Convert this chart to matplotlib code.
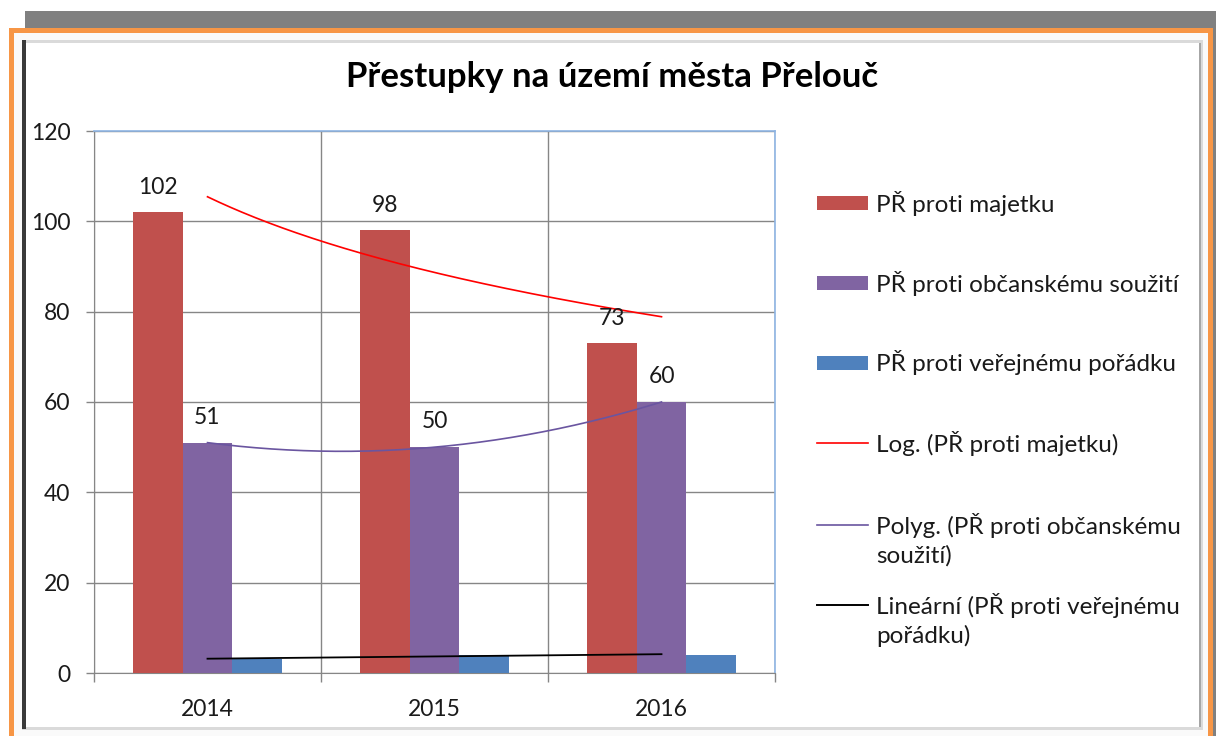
import numpy as np
import matplotlib
matplotlib.use("Agg")
import matplotlib.pyplot as plt
from matplotlib.patches import Rectangle
from matplotlib.lines import Line2D

plt.rcParams['font.family'] = ['Lato', 'DejaVu Sans']

# ---- data ----
title = "Přestupky na území města Přelouč"
years = ["2014", "2015", "2016"]
majetek = [102, 98, 73]
obcanske = [51, 50, 60]
verejny = [3, 4, 4]
series_names = ["PŘ proti majetku", "PŘ proti občanskému soužití", "PŘ proti veřejnému pořádku"]
trend_names = ["Log. (PŘ proti majetku)", "Polyg. (PŘ proti občanskému\nsoužití)",
               "Lineární (PŘ proti veřejnému\npořádku)"]
yticks = [0, 20, 40, 60, 80, 100, 120]

bar_colors = ["#C0504D", "#8064A2", "#4F81BD"]
trend_colors = ["#FF0000", "#6A55A0", "#000000"]

W, H = 1216, 736
fig = plt.figure(figsize=(W / 100, H / 100), dpi=100)
fig.patch.set_facecolor("white")

def fx(x):
    return x / W

def fy(y):
    return 1 - y / H

def frect(x0, y0, x1, y1, **kw):
    fig.patches.append(Rectangle((fx(x0), fy(y1)), fx(x1) - fx(x0), fy(y0) - fy(y1),
                                 transform=fig.transFigure, figure=fig, **kw))

# ---- frame decorations ----
frect(25, 11, 1220, 745, facecolor="#808080", edgecolor="none", zorder=-10)
frect(9, 28, 1213, 745, facecolor="#F79646", edgecolor="none", zorder=-9)
frect(14, 33, 1208, 745, facecolor="#FAFAFA", edgecolor="none", zorder=-8)
frect(22, 40, 1203, 730, facecolor="#DADADA", edgecolor="none", zorder=-7)
frect(26, 43, 1199, 727, facecolor="white", edgecolor="none", zorder=-6)
frect(22, 40, 26, 729, facecolor="#3A3A3A", edgecolor="none", zorder=-5)
frect(1199, 43, 1201, 727, facecolor="#A6A6A6", edgecolor="none", zorder=-5)

# ---- axes ----
ax = fig.add_axes([fx(94), fy(673), fx(775) - fx(94), fy(131) - fy(673)])
x = np.arange(len(years))
bw = 0.22
for i, (vals, c) in enumerate(zip([majetek, obcanske, verejny], bar_colors)):
    ax.bar(x + (i - 1) * bw, vals, width=bw, color=c, zorder=3)
    if i < 2:
        for xi, v in zip(x + (i - 1) * bw, vals):
            ax.annotate(str(v), (xi, v), xytext=(0, 13.5), textcoords="offset points",
                        ha="center", va="baseline", fontsize=16.5, color="#1a1a1a", zorder=6)

# trend lines (computed from the data)
t = np.linspace(1, 3, 200)
xt = t - 1
c_log = np.polyfit(np.log(x + 1), majetek, 1)
ax.plot(xt, np.polyval(c_log, np.log(t)), color=trend_colors[0], lw=1.2, zorder=5)
c_poly = np.polyfit(x + 1, obcanske, 2)
ax.plot(xt, np.polyval(c_poly, t), color=trend_colors[1], lw=1.2, zorder=5)
c_lin = np.polyfit(x + 1, verejny, 1)
ax.plot(xt, np.polyval(c_lin, t), color=trend_colors[2], lw=1.3, zorder=5)

ax.set_xlim(-0.5, len(years) - 0.5)
ax.set_ylim(0, 120)
ax.set_yticks(yticks)
ax.set_yticklabels([str(v) for v in yticks], fontsize=16.5, color="#1a1a1a")
ax.set_xticks(np.arange(len(years) + 1) - 0.5)
ax.set_xticklabels([])
ax.set_xticks(x, minor=True)
ax.set_xticklabels(years, minor=True, fontsize=16.5, color="#1a1a1a")
ax.tick_params(axis="x", which="minor", length=0, pad=19)
ax.tick_params(axis="x", which="major", length=6.5, color="#868686", width=1)
ax.tick_params(axis="y", length=6, color="#868686", width=1, pad=11)
ax.grid(True, which="major", color="#868686", lw=1, zorder=0)
ax.set_axisbelow(True)
for s in ["left", "bottom"]:
    ax.spines[s].set_color("#868686")
for s in ["top", "right"]:
    ax.spines[s].set_color("#8EB4E3")
    ax.spines[s].set_linewidth(1.2)

# ---- title ----
fig.text(fx(612), fy(77), title, ha="center", va="center", fontsize=25,
         fontweight="bold", color="#000000")

# ---- legend (drawn beside plot) ----
rows = [203, 283, 363, 443, 525, 605]
line_gap = 31
labels = series_names + trend_names
for k, (lab, yy) in enumerate(zip(labels, rows)):
    if k < 3:
        frect(817, yy - 7, 868, yy + 7, facecolor=bar_colors[k], edgecolor="none")
    else:
        fig.lines.append(Line2D([fx(817), fx(868)], [fy(yy), fy(yy)], transform=fig.transFigure,
                                color=trend_colors[k - 3], lw=1.2 if k < 5 else 1.4))
    for j, part in enumerate(lab.split("\n")):
        fig.text(fx(876), fy(yy + j * line_gap), part, ha="left", va="center",
                 fontsize=17.5, color="#1a1a1a")

fig.savefig("out.png", dpi=100)
